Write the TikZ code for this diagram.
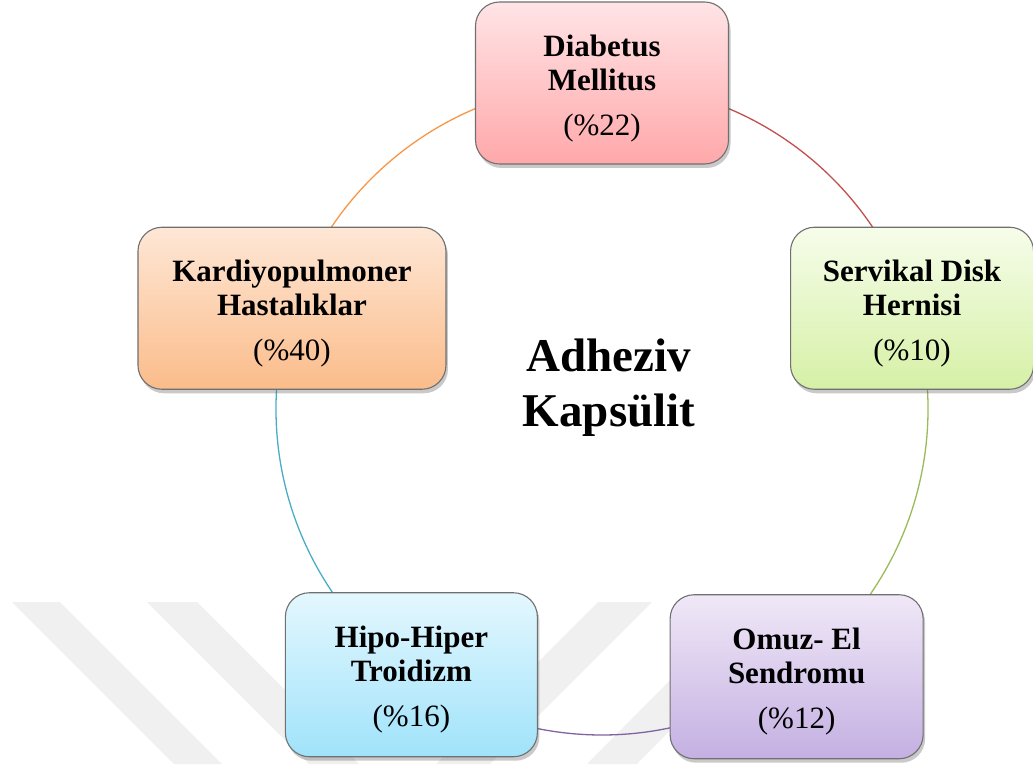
\documentclass[tikz,border=0pt]{standalone}
\usepackage{fontspec}
\setmainfont{Liberation Serif}
\usetikzlibrary{shadows,calc,backgrounds}
\definecolor{boxborder}{RGB}{112,112,112}
\definecolor{wm}{RGB}{240,240,240}
\definecolor{dtop}{RGB}{255,228,230}
\definecolor{dbot}{RGB}{255,168,170}
\definecolor{stop}{RGB}{246,253,234}
\definecolor{sbot}{RGB}{214,240,166}
\definecolor{ktop}{RGB}{254,231,214}
\definecolor{kbot}{RGB}{251,188,138}
\definecolor{htop}{RGB}{228,247,254}
\definecolor{hbot}{RGB}{160,227,250}
\definecolor{otop}{RGB}{240,232,247}
\definecolor{obot}{RGB}{196,176,226}
\definecolor{arcred}{RGB}{192,80,77}
\definecolor{arcgreen}{RGB}{155,187,89}
\definecolor{arcpurple}{RGB}{128,100,162}
\definecolor{arcteal}{RGB}{75,172,198}
\definecolor{arcorange}{RGB}{247,150,70}
\newcommand{\topstrut}{\rule{0pt}{32pt}}
\begin{document}
\begin{tikzpicture}[x=1pt,y=1pt,
  box/.style={draw=boxborder, line width=1.1pt, rounded corners=24pt, align=center,
    minimum height=162pt, inner sep=0pt, font=\fontsize{31}{34}\selectfont,
    drop shadow={shadow xshift=2pt, shadow yshift=-4pt, opacity=0.3, fill=black!70}},
  link/.style={line width=1.3pt}
]
\useasboundingbox (0,0) rectangle (1033,764);
\coordinate (c) at (602,355);
\node[box, minimum width=253pt, top color=dtop, bottom color=dbot] (dm) at ($(c)+(90:326)$)
  {\topstrut{\bfseries Diabetus}\\{\bfseries Mellitus}\\[11pt](\%22)};
\node[box, minimum width=243pt, top color=stop, bottom color=sbot] (sd) at ($(c)+(18:326)$)
  {\topstrut{\bfseries Servikal Disk}\\{\bfseries Hernisi}\\[11pt](\%10)};
\node[box, minimum width=253pt, minimum height=164pt, top color=otop, bottom color=obot] (oe) at ($(c)+(-54:326)+(3,-4)$)
  {\topstrut{\bfseries Omuz- El}\\{\bfseries Sendromu}\\[11pt](\%12)};
\node[box, minimum width=252pt, minimum height=164pt, top color=htop, bottom color=hbot] (ht) at ($(c)+(-126:326)+(1,-2)$)
  {\topstrut{\bfseries Hipo-Hiper}\\{\bfseries Troidizm}\\[11pt](\%16)};
\node[box, minimum width=308pt, top color=ktop, bottom color=kbot] (kh) at ($(c)+(162:326)$)
  {\topstrut{\bfseries Kardiyopulmoner}\\{\bfseries Hastalıklar}\\[11pt](\%40)};
\node[font=\bfseries\fontsize{47}{55}\selectfont, align=center] (title) at (609,376) {Adheziv\\Kapsülit};
\begin{scope}[on background layer]
  \fill[wm] (12,162) -- (60,162) -- (222,0) -- (174,0) -- cycle;
  \fill[wm] (147,162) -- (197,162) -- (359,0) -- (309,0) -- cycle;
  \fill[wm] (598,162) -- (652,162) -- (490,0) -- (436,0) -- cycle;
  \fill[wm] (687,101) -- (737,101) -- (637,0) -- (587,0) -- cycle;
  \draw[link, arcred] (dm.center) arc[start angle=90, end angle=18, radius=326];
  \draw[link, arcgreen] (sd.center) arc[start angle=18, end angle=-54, radius=326];
  \draw[link, arcpurple] (oe.center) ++(-3,4) arc[start angle=-54, end angle=-126, radius=326];
  \draw[link, arcteal] (ht.center) ++(-1,2) arc[start angle=-126, end angle=-198, radius=326];
  \draw[link, arcorange] (kh.center) arc[start angle=162, end angle=90, radius=326];
\end{scope}
\end{tikzpicture}
\end{document}
